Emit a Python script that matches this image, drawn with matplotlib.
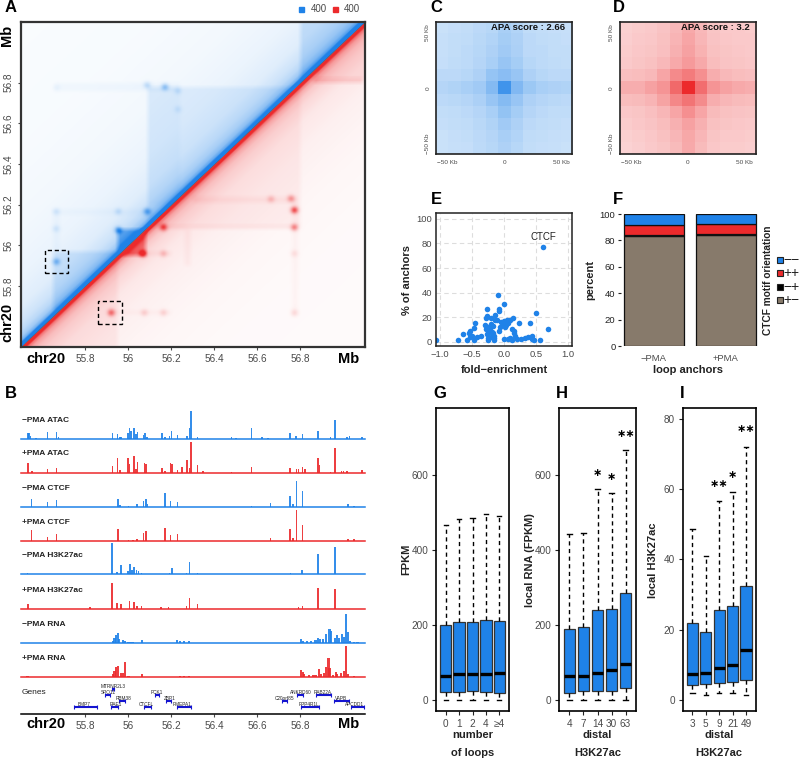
import numpy as np
import matplotlib
matplotlib.use("Agg")
import matplotlib.pyplot as plt
from matplotlib.colors import LinearSegmentedColormap
from matplotlib.patches import Rectangle

plt.rcParams['font.family'] = ['Liberation Sans', 'DejaVu Sans']

BLUE = '#1f82e8'
RED = '#ec2a2c'
BROWN = '#877a6b'
GREY = '#4a4a4a'

# ---- panel A: contact map features (Mb)
map_dist = [0, 0.02, 0.03, 0.05, 0.08, 0.12, 0.2, 0.35, 0.6, 1.0, 1.6]
map_blue_level = [1.0, 1.0, 0.62, 0.42, 0.3, 0.22, 0.14, 0.09, 0.055, 0.035, 0.025]
map_red_level = [1.0, 1.0, 0.6, 0.38, 0.25, 0.18, 0.11, 0.07, 0.04, 0.025, 0.02]
# x0, x1, y0, y1, added level
blue_blocks = [(55.95, 56.08, 55.97, 56.08, 0.45), (56.09, 56.8, 56.09, 56.78, 0.09),
               (55.65, 55.95, 55.68, 55.97, 0.13), (56.8, 57.1, 56.8, 57.1, 0.16),
               (56.09, 56.24, 56.2, 56.78, 0.03), (55.66, 56.24, 56.76, 56.8, 0.035),
               (55.65, 56.09, 56.15, 56.18, 0.025), (55.65, 55.68, 55.97, 56.18, 0.03)]
red_blocks = [(55.97, 56.08, 55.95, 56.08, 0.42), (56.09, 56.8, 56.09, 56.8, 0.05),
              (56.87, 57.1, 56.82, 57.1, 0.09), (56.86, 57.09, 56.8, 56.825, 0.15),
              (56.16, 56.78, 56.08, 56.1, 0.06), (56.3, 56.78, 56.21, 56.24, 0.05),
              (56.76, 56.79, 55.65, 56.24, 0.03), (56.26, 56.29, 55.9, 56.08, 0.04),
              (55.95, 56.2, 55.95, 55.97, 0.05), (55.93, 56.2, 55.66, 55.68, 0.03),
              (55.5, 55.95, 55.5, 55.95, 0.06)]
# x, y, strength
blue_spots = [(55.665, 55.92, 0.4), (55.664, 56.082, 0.12), (55.664, 56.167, 0.1),
              (55.953, 56.075, 0.55), (55.953, 56.167, 0.15), (56.087, 56.167, 0.45),
              (56.087, 56.789, 0.2), (56.17, 56.78, 0.35), (56.23, 56.76, 0.12),
              (56.23, 56.67, 0.1), (55.664, 56.777, 0.05)]
red_spots = [(55.92, 55.669, 0.55), (56.074, 55.669, 0.15), (56.163, 55.669, 0.14),
             (56.772, 55.669, 0.12), (56.067, 55.96, 0.75), (56.163, 55.96, 0.2),
             (56.772, 55.96, 0.1), (56.163, 56.089, 0.6), (56.772, 56.089, 0.45),
             (56.772, 56.174, 0.7), (56.756, 56.231, 0.35), (56.663, 56.228, 0.2)]
blue_box = (55.61, 55.72, 55.862, 55.974)
red_box = (55.859, 55.97, 55.611, 55.723)
mb_ticks = [55.8, 56.0, 56.2, 56.4, 56.6, 56.8]
mb_labels = ['55.8', '56', '56.2', '56.4', '56.6', '56.8']

# ---- panels C, D: pile-up matrices
apa_blue = [[.24, .26, .27, .30, .32, .38, .34, .28, .27, .26, .25],
            [.25, .27, .28, .31, .34, .40, .36, .30, .28, .27, .26],
            [.25, .27, .29, .32, .36, .42, .37, .30, .29, .27, .27],
            [.26, .28, .29, .33, .38, .46, .40, .32, .29, .28, .27],
            [.30, .30, .32, .36, .47, .52, .46, .36, .32, .30, .30],
            [.33, .35, .38, .42, .55, .85, .56, .44, .38, .36, .35],
            [.30, .31, .33, .37, .46, .54, .46, .36, .33, .31, .30],
            [.27, .28, .30, .33, .38, .48, .40, .33, .30, .28, .28],
            [.26, .27, .28, .31, .35, .42, .36, .30, .28, .27, .26],
            [.24, .26, .27, .30, .33, .38, .34, .28, .27, .26, .25],
            [.24, .25, .26, .29, .32, .36, .32, .27, .26, .25, .24]]
apa_red = [[.22, .24, .25, .28, .33, .40, .33, .27, .25, .25, .24],
           [.23, .25, .26, .29, .35, .42, .34, .28, .26, .25, .25],
           [.24, .26, .27, .30, .37, .44, .36, .29, .27, .26, .25],
           [.25, .27, .29, .33, .40, .47, .40, .31, .28, .27, .26],
           [.30, .31, .33, .42, .55, .62, .52, .38, .33, .31, .30],
           [.38, .38, .44, .50, .70, 1.0, .68, .50, .44, .40, .38],
           [.31, .32, .35, .43, .56, .65, .54, .38, .34, .32, .31],
           [.26, .27, .30, .34, .42, .52, .42, .32, .29, .28, .27],
           [.24, .26, .28, .31, .37, .44, .37, .29, .27, .26, .25],
           [.22, .24, .26, .29, .34, .41, .34, .27, .25, .25, .24],
           [.21, .23, .25, .27, .32, .40, .32, .26, .24, .24, .23]]

# ---- panel E
motif_x = [0.61, -0.1, 0.0, -0.26, -0.08, -0.08, 0.5, -0.14, -0.26, -0.28, -0.2, -0.14,
           -0.11, 0.14, 0.1, 0.05, 0.0, -0.04, 0.23, 0.4, -0.45, -0.02, 0.03, -0.2, -0.25,
           -0.28, -0.22, -0.17, -0.08, 0.68, 0.12, 0.15, -0.47, -0.53, -0.55, -0.17, -0.15,
           -0.63, 0.15, 0.17, -0.5, -0.42, -0.35, -0.27, -0.2, -0.25, -0.15, 0.0, 0.1, 0.13,
           0.2, 0.27, 0.33, 0.37, 0.44, 0.44, 0.47, 0.56, -1.05, -0.72, -0.58, -0.47, -0.25,
           -0.15, 0.07, -0.23, -0.18, -0.06, 0.02, 0.06, -0.3, -0.53]
motif_y = [77, 38, 31, 26.5, 27, 25, 23, 22, 21, 19, 19, 18,
           18, 19, 18, 17.5, 17, 16, 15.5, 15, 15, 14, 14, 14.5, 12,
           10, 11, 13, 9, 10, 10, 9, 11, 9, 7, 7, 5,
           6, 7, 5, 5, 4, 5, 6, 4, 3, 3, 2, 3, 1.5,
           2.5, 2.5, 3, 3.5, 4.5, 2, 1, 1, 1.5, 1.2, 1, 1, 1,
           1, 2, 8, 8, 12, 12, 15, 14, 4]

# ---- panel F
orient_groups = ['\u2212PMA', '+PMA']
orient_pm = [83, 84]    # +-
orient_mp = [1, 1]      # -+
orient_pp = [8, 7.5]    # ++
orient_mm = [8, 7.5]    # --
orient_names = ['\u2212\u2212', '++', '\u2212+', '+\u2212']
orient_colors = [BLUE, RED, 'black', BROWN]

# ---- panel B: peak positions (Mb) and heights
atac_minus_pos = [55.532, 55.537, 55.545, 55.57, 55.623, 55.665, 55.675, 55.926, 55.949, 55.96,
                  55.966, 55.998, 56.005, 56.012, 56.025, 56.035, 56.043, 56.07, 56.076, 56.085,
                  56.155, 56.169, 56.19, 56.2, 56.228, 56.273, 56.284, 56.291, 56.322, 56.478,
                  56.5, 56.571, 56.62, 56.65, 56.75, 56.78, 56.809, 56.881, 56.94, 56.961,
                  57.017, 57.028, 57.085]
atac_minus_h = [6, 6, 3, 1, 6.5, 6.5, 2, 6, 5, 2,
                2, 6, 11, 8, 11, 5, 7, 4, 6, 2,
                6, 2, 3, 7.5, 4, 3, 11, 28, 1.5, 2,
                1, 11, 2, 1, 6, 3, 5, 8, 2, 19,
                2, 2.5, 1.5]
atac_plus_pos = [55.532, 55.55, 55.623, 55.665, 55.926, 55.949, 55.96, 55.998, 56.005, 56.025,
                 56.035, 56.043, 56.074, 56.082, 56.155, 56.169, 56.195, 56.202, 56.228, 56.25,
                 56.273, 56.284, 56.291, 56.322, 56.346, 56.478, 56.571, 56.752, 56.781, 56.79,
                 56.809, 56.82, 56.881, 56.888, 56.94, 56.961, 56.99, 57.0, 57.017, 57.085]
atac_plus_h = [9.5, 2, 4, 5, 7, 15, 2.5, 15, 9, 17,
               4, 11, 9.5, 9, 5, 2, 9.5, 9, 3, 6,
               13, 5, 31, 8, 2, 1, 6, 5, 4, 4,
               6, 4, 15, 8, 1, 24.5, 1.5, 1.5, 1.5, 3]
ctcf_minus_pos = [55.549, 55.623, 55.665, 55.952, 55.96, 56.0, 56.04, 56.07, 56.082, 56.088,
                  56.169, 56.195, 56.228, 56.571, 56.66, 56.752, 56.765, 56.781, 56.809, 57.02, 57.05]
ctcf_minus_h = [8, 5, 7, 7.5, 2, 1, 3, 6, 7.5, 3,
                13.5, 6, 4.5, 1, 4, 11, 3, 25.5, 16, 3, 1]
ctcf_plus_pos = [55.549, 55.623, 55.665, 55.952, 56.0, 56.02, 56.04, 56.07, 56.082,
                 56.169, 56.195, 56.228, 56.66, 56.752, 56.765, 56.781, 56.809, 57.02, 57.05]
ctcf_plus_h = [11.5, 4.5, 7, 12, 1, 1.5, 2, 8.5, 10,
               13, 6, 7, 3.5, 12.5, 3, 31, 16, 2, 2]
k27_minus_pos = [55.53, 55.924, 55.947, 55.966, 55.995, 56.0, 56.008, 56.017, 56.026, 56.037,
                 56.046, 56.06, 56.19, 56.203, 56.27, 56.284, 56.32, 56.753, 56.808, 56.881, 56.961]
k27_minus_h = [1.5, 31, 2.5, 9, 3, 3, 10, 4, 7, 4,
               3, 1, 1.5, 6, 1.5, 12.5, 1, 1.5, 4, 20, 27.5]
k27_plus_pos = [55.532, 55.82, 55.924, 55.947, 55.966, 56.005, 56.025, 56.04, 56.06, 56.15,
                56.185, 56.27, 56.284, 56.32, 56.79, 56.81, 56.881, 56.961]
k27_plus_h = [5, 2, 26, 6, 5, 8, 7, 3, 3, 1.5,
              2, 3, 11, 5, 2, 3, 20.5, 19.5]
rna_minus_pos = [55.927, 55.935, 55.943, 55.95, 55.955, 55.974, 55.982, 56.0, 56.01, 56.02, 56.062,
                 56.225, 56.24, 56.26, 56.28, 56.803, 56.81, 56.83, 56.85, 56.87, 56.88, 56.89,
                 56.905, 56.92, 56.935, 56.94, 56.96, 56.97, 56.98, 56.995, 57.004, 57.013,
                 57.02, 57.03, 57.05, 57.065]
rna_minus_h = [1.5, 5, 7.5, 10, 4, 3, 2, 1, 1, 1, 3,
               3, 1.5, 1.5, 1.5, 4, 2, 1.5, 1.5, 3, 5, 4,
               3.5, 9, 14, 12, 5, 8, 5, 8.5, 6, 29,
               11, 2, 1, 1]
rna_plus_pos = [55.53, 55.927, 55.935, 55.943, 55.95, 55.966, 55.974, 55.982, 56.0, 56.062,
                56.24, 56.26, 56.28, 56.803, 56.81, 56.818, 56.838, 56.857, 56.87, 56.885,
                56.895, 56.91, 56.92, 56.93, 56.935, 56.95, 56.965, 56.97, 56.988, 57.003,
                57.013, 57.02, 57.05]
rna_plus_h = [1.5, 3, 6, 10, 11, 4, 4, 15, 1, 3,
              1, 1, 1, 7, 5, 3, 2, 2, 2, 8,
              3, 4, 10, 19, 9, 2, 5, 3, 4, 6,
              31, 3, 1]

gene_names = ['BMP7', 'SPO11', 'MTRNR2L3', 'RBM38', 'RAE1', 'CTCFL', 'PCK1', 'ZBP1', 'PMEPA1',
              'C20orf85', 'ANKRD60', 'PPP4R1L', 'RAB22A', 'VAPB', 'APCDD1']
gene_start = [55.747, 55.893, 55.925, 55.957, 55.919, 56.07, 56.125, 56.175, 56.224,
              56.716, 56.786, 56.802, 56.87, 56.955, 57.036]
gene_end = [55.852, 55.915, 55.932, 55.982, 55.953, 56.104, 56.14, 56.2, 56.289,
            56.735, 56.81, 56.887, 56.94, 57.024, 57.097]
gene_row = [0, 2, 3, 1, 0, 0, 2, 1, 0, 1, 2, 0, 2, 1, 0]
gene_label_x = [55.795, 55.905, 55.93, 55.975, 55.94, 56.085, 56.133, 56.19, 56.25,
                56.725, 56.8, 56.84, 56.905, 56.99, 57.05]

# ---- panels G, H, I: box statistics
loops_labels = ['0', '1', '2', '4', '\u22654']
loops_lo = [0, 0, 0, 0, 0]
loops_q1 = [21, 22, 23, 21, 20]
loops_med = [65, 70, 68, 70, 71]
loops_q3 = [200, 207, 208, 214, 211]
loops_hi = [467, 483, 484, 496, 491]

rna_labels = ['4', '7', '14', '30', '63']
rna_lo = [0, 0, 0, 0, 0]
rna_q1 = [18, 23, 24, 25, 33]
rna_med = [65, 65, 72, 81, 97]
rna_q3 = [188, 195, 240, 241, 286]
rna_hi = [441, 445, 562, 551, 665]
rna_stars = ['', '', '\u2217', '\u2217', '\u2217\u2217']
rna_star_y = [0, 0, 605, 593, 707]

h3k_labels = ['3', '5', '9', '21', '49']
h3k_lo = [2, 1.5, 2, 2, 1.5]
h3k_q1 = [4.3, 4.5, 4.8, 5.2, 5.7]
h3k_med = [7.5, 7.8, 9.2, 10, 14.2]
h3k_q3 = [22, 19.2, 25.6, 26.8, 32.3]
h3k_hi = [48.5, 41, 56.6, 59, 72]
h3k_stars = ['', '', '\u2217\u2217', '\u2217', '\u2217\u2217']
h3k_star_y = [0, 0, 61.5, 64, 77]

W, H = 800, 759
fig = plt.figure(figsize=(8, 7.59), dpi=100)


def px_axes(left, top, right, bottom):
    return fig.add_axes([left / W, 1 - bottom / H, (right - left) / W, (bottom - top) / H])


def px_text(x, y, s, **kw):
    kw.setdefault('ha', 'center')
    kw.setdefault('va', 'center')
    return fig.text(x / W, 1 - y / H, s, **kw)


def frame(ax, color='black', lw=1.2):
    for s in ax.spines.values():
        s.set_color(color)
        s.set_linewidth(lw)


for letter, x, y in [('A', 11, 8), ('C', 436, 8), ('D', 619, 8), ('E', 436, 200), ('F', 618, 200),
                     ('B', 11, 393), ('G', 440, 393), ('H', 562, 393), ('I', 682, 393)]:
    px_text(x, y, letter, fontsize=12, fontweight='bold')

# ---- A
def map_layer(level, blocks, spots):
    edges = np.linspace(55.5, 57.1, 321)
    centers = (edges[:-1] + edges[1:]) / 2
    xx, yy = np.meshgrid(centers, centers)
    base = np.zeros_like(xx)
    for x0, x1, y0, y1, add in blocks:
        base[(xx >= x0) & (xx <= x1) & (yy >= y0) & (yy <= y1)] += add
    # domain edges are soft in the map
    kernel = np.ones(5) / 5
    for axis in (0, 1):
        base = np.apply_along_axis(lambda r: np.convolve(r, kernel, mode='same'), axis, base)
    val = np.interp(np.abs(xx - yy), map_dist, level) + base
    for sx, sy, amp in spots:
        val += amp * np.exp(-((xx - sx) ** 2 + (yy - sy) ** 2) / (2 * 0.012 ** 2))
    return xx, yy, val


ax = px_axes(21, 21.7, 365, 346.7)
blue_cmap = LinearSegmentedColormap.from_list('b', ['white', BLUE])
red_cmap = LinearSegmentedColormap.from_list('r', ['white', RED])
xx, yy, val = map_layer(map_blue_level, blue_blocks, blue_spots)
ax.imshow(np.ma.masked_where(xx > yy, val), origin='lower', extent=(55.5, 57.1, 55.5, 57.1),
          cmap=blue_cmap, vmin=0, vmax=1, aspect='auto', interpolation='bilinear')
xx, yy, val = map_layer(map_red_level, red_blocks, red_spots)
ax.imshow(np.ma.masked_where(xx <= yy, val), origin='lower', extent=(55.5, 57.1, 55.5, 57.1),
          cmap=red_cmap, vmin=0, vmax=1, aspect='auto', interpolation='bilinear')
for x0, x1, y0, y1 in [blue_box, red_box]:
    ax.add_patch(Rectangle((x0, y0), x1 - x0, y1 - y0, fill=False, ec='black', lw=1, ls=(0, (3, 2))))
ax.set_xticks(mb_ticks, mb_labels)
ax.set_yticks(mb_ticks, mb_labels)
ax.tick_params(axis='x', labelsize=7.2, colors=GREY, length=2, pad=3.5)
ax.tick_params(axis='y', labelsize=7.2, colors=GREY, length=2, pad=3.5, labelrotation=90)
for t in ax.get_yticklabels():
    t.set_va('center')
frame(ax, '#333333', 1.6)
px_text(46, 359, 'chr20', fontsize=10.5, fontweight='bold')
px_text(349, 359, 'Mb', fontsize=10.5, fontweight='bold')
px_text(7, 322, 'chr20', fontsize=10.5, fontweight='bold', rotation=90)
px_text(7, 35, 'Mb', fontsize=10.5, fontweight='bold', rotation=90)
fig.patches.append(Rectangle((299.3 / W, 1 - 11.5 / H), 5 / W, 5 / H, color=BLUE, transform=fig.transFigure))
fig.patches.append(Rectangle((333 / W, 1 - 11.5 / H), 5 / W, 5 / H, color=RED, transform=fig.transFigure))
px_text(310.5, 9, '400', fontsize=7, color=GREY, ha='left')
px_text(344, 9, '400', fontsize=7, color=GREY, ha='left')

# ---- C, D
for left, mat, cmap, score, sx in [(436, apa_blue, blue_cmap, 'APA score : 2.66', 565.5),
                                   (619.7, apa_red, red_cmap, 'APA score : 3.2', 749.5)]:
    ax = px_axes(left, 21.7, left + 136.3, 154.3)
    ax.imshow(mat, extent=(-60, 60, -60, 60), cmap=cmap, vmin=0, vmax=1, aspect='auto', origin='upper')
    ax.set_xticks([-50, 0, 50], ['\u221250 Kb', '0', '50 Kb'])
    ax.set_yticks([-50, 0, 50], ['\u221250 Kb', '0', '50 Kb'])
    ax.tick_params(axis='both', labelsize=4.6, colors=GREY, length=0, pad=4)
    ax.tick_params(axis='y', labelrotation=90)
    for t in ax.get_yticklabels():
        t.set_va('center')
    frame(ax, '#222222', 1.2)
    px_text(sx, 28, score, fontsize=6.8, fontweight='bold', ha='right', color='#111111')

# ---- E
ax = px_axes(436, 213.3, 572.3, 346)
ax.grid(True, color='#dddddd', ls=(0, (4, 3)), lw=0.8)
ax.set_axisbelow(True)
ax.scatter(motif_x, motif_y, s=16, color=BLUE, linewidths=0, clip_on=True)
ax.set_xlim(-1.057, 1.062)
ax.set_ylim(-3.5, 104.6)
ax.set_xticks([-1, -0.5, 0, 0.5, 1], ['\u22121.0', '\u22120.5', '0.0', '0.5', '1.0'])
ax.set_yticks([0, 20, 40, 60, 80, 100])
ax.tick_params(axis='both', labelsize=6.8, colors=GREY, length=0, pad=3)
ax.text(0.61, 85, 'CTCF', fontsize=7, ha='center', va='center', color='#222222')
frame(ax, '#222222', 1.1)
px_text(504, 370, 'fold\u2212enrichment', fontsize=8, fontweight='bold', color='#222222')
px_text(407, 280, '% of anchors', fontsize=8, fontweight='bold', rotation=90, color='#222222')

# ---- F
ax = px_axes(621, 214, 758, 346)
bottoms = np.zeros(2)
for vals, col in [(orient_pm, BROWN), (orient_mp, 'black'), (orient_pp, RED), (orient_mm, BLUE)]:
    ax.bar([0, 1], vals, bottom=bottoms, width=0.837, color=col, edgecolor='#111111', linewidth=0.9)
    bottoms = bottoms + np.array(vals)
ax.set_xlim(-0.46, 1.45)
ax.set_ylim(0, 100)
ax.set_xticks([0, 1], orient_groups)
ax.set_yticks([0, 20, 40, 60, 80, 100])
ax.tick_params(axis='x', labelsize=6.8, colors=GREY, length=0, pad=6)
ax.tick_params(axis='y', labelsize=6.8, colors='#222222', length=2, pad=2)
for s in ax.spines.values():
    s.set_visible(False)
px_text(688, 370, 'loop anchors', fontsize=8, fontweight='bold', color='#222222')
px_text(590.7, 280, 'percent', fontsize=8, fontweight='bold', rotation=90, color='#222222')
px_text(768, 280, 'CTCF motif orientation', fontsize=7.3, fontweight='bold', rotation=90, color='#222222')
for name, col, y in zip(orient_names, orient_colors, [260, 273.3, 286.7, 300]):
    fig.patches.append(Rectangle((776.5 / W, 1 - (y + 3) / H), 6 / W, 6 / H, facecolor=col, edgecolor='#222222',
                                 linewidth=0.8, transform=fig.transFigure))
    px_text(783, y, name, fontsize=10, ha='left', color='#222222')

# ---- B
tracks = [('\u2212PMA ATAC', atac_minus_pos, atac_minus_h, BLUE, 438.7, 0.007),
          ('+PMA ATAC', atac_plus_pos, atac_plus_h, RED, 472.7, 0.007),
          ('\u2212PMA CTCF', ctcf_minus_pos, ctcf_minus_h, BLUE, 506.7, 0.007),
          ('+PMA CTCF', ctcf_plus_pos, ctcf_plus_h, RED, 541, 0.007),
          ('\u2212PMA H3K27ac', k27_minus_pos, k27_minus_h, BLUE, 574.3, 0.007),
          ('+PMA H3K27ac', k27_plus_pos, k27_plus_h, RED, 608.7, 0.007),
          ('\u2212PMA RNA', rna_minus_pos, rna_minus_h, BLUE, 642.7, 0.01),
          ('+PMA RNA', rna_plus_pos, rna_plus_h, RED, 677, 0.01)]
for name, pos, h, col, base, bar_w in tracks:
    ax = px_axes(21, base - 32, 365, base)
    ax.bar(pos, h, width=bar_w, color=col, linewidth=0, alpha=0.9)
    ax.axhline(0, color=col, lw=1.1, clip_on=False)
    ax.set_xlim(55.5, 57.1)
    ax.set_ylim(0, 32)
    ax.axis('off')
    px_text(22, base - 18.7, name, fontsize=6, fontweight='bold', ha='left', color='#222222')

ax = px_axes(21, 682, 365, 713.7)
rows_y = [6.4, 12.4, 18.4, 24.4]
for name, a, b, row, lx in zip(gene_names, gene_start, gene_end, gene_row, gene_label_x):
    ax.plot([a, b], [rows_y[row]] * 2, color='#1414d0', lw=1.5, solid_capstyle='butt')
    ax.plot([a, b], [rows_y[row]] * 2, ls='none', marker='|', ms=2.8, mew=0.8, color='#1414d0')
    ax.text(lx, rows_y[row] + 3.3, name, fontsize=3.4, ha='center', va='center', color='#222222')
ax.set_xlim(55.5, 57.1)
ax.set_ylim(0, 31.7)
ax.set_xticks(mb_ticks, mb_labels)
ax.set_yticks([])
ax.tick_params(axis='x', labelsize=7.2, colors=GREY, length=2, pad=3.5)
for s in ['top', 'left', 'right']:
    ax.spines[s].set_visible(False)
ax.spines['bottom'].set_linewidth(1.1)
px_text(22, 692.7, 'Genes', fontsize=6, ha='left', color='#222222')
px_text(46, 724, 'chr20', fontsize=10.5, fontweight='bold')
px_text(349, 724, 'Mb', fontsize=10.5, fontweight='bold')

# ---- G, H, I
def box_panel(ax, labels, lo, q1, med, q3, hi, ylim, yticks):
    stats = [dict(whislo=a, q1=b, med=c, q3=d, whishi=e, fliers=[])
             for a, b, c, d, e in zip(lo, q1, med, q3, hi)]
    ax.bxp(stats, positions=range(1, 6), widths=0.84, patch_artist=True, showfliers=False, capwidths=0.32,
           boxprops=dict(facecolor=BLUE, edgecolor='#333333', linewidth=0.9),
           whiskerprops=dict(color='black', lw=1.0, ls=(0, (3, 2.5))),
           capprops=dict(color='black', lw=1.0),
           medianprops=dict(color='black', lw=2.4, solid_capstyle='butt'))
    ax.set_xlim(0.28, 5.72)
    ax.set_ylim(*ylim)
    ax.set_xticks(range(1, 6), labels)
    ax.set_yticks(yticks)
    ax.tick_params(axis='both', labelsize=7.2, colors=GREY, length=3, pad=2.5, color='#222222')
    frame(ax)


ax = px_axes(436, 407.7, 509, 711.3)
box_panel(ax, loops_labels, loops_lo, loops_q1, loops_med, loops_q3, loops_hi, (-30, 778), [0, 200, 400, 600])
ax = px_axes(559.3, 407.7, 635.7, 711.3)
box_panel(ax, rna_labels, rna_lo, rna_q1, rna_med, rna_q3, rna_hi, (-30, 778), [0, 200, 400, 600])
for i, (s, y) in enumerate(zip(rna_stars, rna_star_y)):
    if s:
        ax.text(i + 1, y, s, fontsize=8, ha='center', va='center', family='DejaVu Sans', fontweight='bold')
ax = px_axes(682.7, 407.7, 755.7, 711.3)
box_panel(ax, h3k_labels, h3k_lo, h3k_q1, h3k_med, h3k_q3, h3k_hi, (-3.2, 83.1), [0, 20, 40, 60, 80])
for i, (s, y) in enumerate(zip(h3k_stars, h3k_star_y)):
    if s:
        ax.text(i + 1, y, s, fontsize=8, ha='center', va='center', family='DejaVu Sans', fontweight='bold')

px_text(406, 559, 'FPKM', fontsize=8, fontweight='bold', rotation=90, color='#222222')
px_text(530, 560, 'local RNA (FPKM)', fontsize=8, fontweight='bold', rotation=90, color='#222222')
px_text(653, 560, 'local H3K27ac', fontsize=8, fontweight='bold', rotation=90, color='#222222')
for x, a, b in [(472.5, 'number', 'of loops'), (597.5, 'distal', 'H3K27ac'), (719, 'distal', 'H3K27ac')]:
    px_text(x, 735, a, fontsize=8, fontweight='bold', color='#222222')
    px_text(x, 752.7, b, fontsize=8, fontweight='bold', color='#222222')

fig.savefig('out.png', dpi=100)
